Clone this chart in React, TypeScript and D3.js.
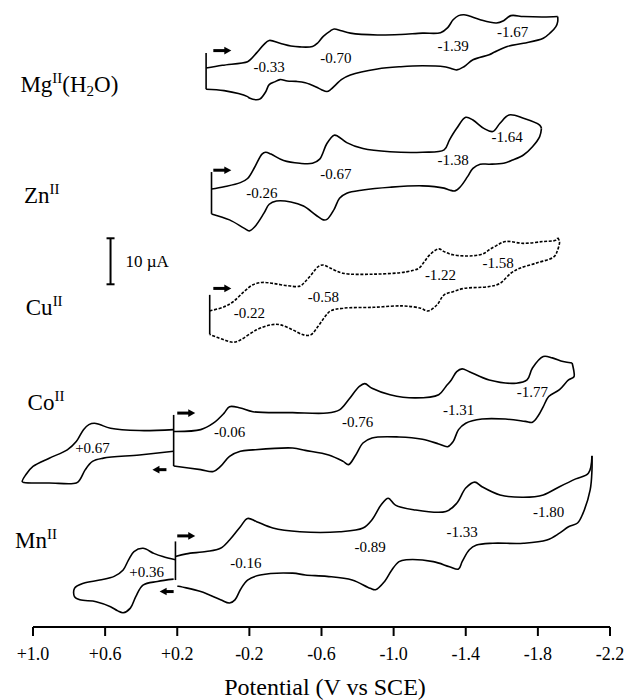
import React from 'react';
import * as d3 from 'd3';

type Pt = [number, number]; // [potential (V vs SCE), current (µA, relative to scan start)]

// potential axis
const potentialTicks = [1.0, 0.6, 0.2, -0.2, -0.6, -1.0, -1.4, -1.8, -2.2];
const potentialTickLabels = ['+1.0', '+0.6', '+0.2', '-0.2', '-0.6', '-1.0', '-1.4', '-1.8', '-2.2'];

// complexes, top to bottom
const complexes = ['Mg', 'Zn', 'Cu', 'Co', 'Mn'];

// Mg(II)(H2O)
const mgForward: Pt[] = [
  [0.04, 0], [-0.05, 0.6], [-0.19, 1.4], [-0.21, 2.0], [-0.24, 3.3], [-0.28, 5.1], [-0.31, 6.0],
  [-0.37, 5.4], [-0.43, 4.8], [-0.48, 4.6], [-0.55, 4.7], [-0.58, 5.5], [-0.61, 6.9], [-0.65, 8.1],
  [-0.67, 8.5], [-0.71, 8.1], [-0.76, 7.6], [-0.91, 7.2], [-1.04, 7.3], [-1.16, 7.6], [-1.26, 7.7],
  [-1.30, 8.8], [-1.33, 10.5], [-1.36, 11.4], [-1.39, 11.6], [-1.42, 11.3], [-1.48, 10.5], [-1.57, 9.8],
  [-1.61, 10.3], [-1.65, 11.4], [-1.72, 11.2], [-1.83, 11.1], [-1.91, 11.2],
];
const mgReverse: Pt[] = [
  [-1.91, 11.2], [-1.91, 10.1], [-1.90, 9.0], [-1.87, 7.7], [-1.83, 6.5], [-1.72, 5.4], [-1.63, 4.7],
  [-1.56, 3.5], [-1.53, 2.9], [-1.44, 1.8], [-1.39, 0.3], [-1.35, -0.4], [-1.31, 0.0], [-1.28, 0.3],
  [-1.16, 0.5], [-1.04, 0.3], [-0.91, -0.2], [-0.76, -1.5], [-0.71, -2.5], [-0.68, -3.6], [-0.65, -4.7],
  [-0.63, -5.1], [-0.60, -4.7], [-0.57, -4.1], [-0.51, -3.2], [-0.46, -2.9], [-0.41, -2.8], [-0.37, -2.5],
  [-0.34, -3.0], [-0.31, -3.6], [-0.29, -5.2], [-0.26, -6.7], [-0.24, -6.9], [-0.20, -6.5], [-0.19, -6.2],
  [-0.06, -4.9], [0.04, -4.6],
];
const mgHalfWave = ['-0.33', '-0.70', '-1.39', '-1.67'];
const mgHalfWavePos: Pt[] = [[-0.31, 0.3], [-0.68, 2.3], [-1.33, 4.8], [-1.66, 7.8]];

// Zn(II)
const znForward: Pt[] = [
  [0.01, 0], [-0.06, 0.5], [-0.15, 1.4], [-0.19, 2.3], [-0.23, 4.8], [-0.27, 7.6], [-0.29, 8.0],
  [-0.32, 7.6], [-0.39, 6.2], [-0.48, 5.6], [-0.55, 5.6], [-0.59, 6.5], [-0.63, 9.9], [-0.67, 11.7],
  [-0.69, 11.5], [-0.74, 10.1], [-0.83, 8.8], [-0.98, 8.1], [-1.16, 8.0], [-1.28, 8.5], [-1.31, 10.7],
  [-1.35, 13.2], [-1.40, 15.6], [-1.44, 15.0], [-1.50, 13.2], [-1.55, 12.5], [-1.59, 14.3], [-1.64, 16.1],
  [-1.72, 15.4], [-1.81, 13.9], [-1.82, 13.2],
];
const znReverse: Pt[] = [
  [-1.82, 13.2], [-1.81, 11.4], [-1.77, 9.2], [-1.72, 7.4], [-1.66, 6.3], [-1.61, 5.6], [-1.53, 5.4],
  [-1.48, 5.4], [-1.44, 4.5], [-1.41, 2.7], [-1.37, 0.5], [-1.34, -0.4], [-1.31, -0.2], [-1.28, 0.2],
  [-1.16, 0.7], [-0.98, 0.4], [-0.83, -0.2], [-0.74, -0.9], [-0.70, -2.0], [-0.67, -4.4], [-0.63, -6.6],
  [-0.61, -6.7], [-0.57, -5.7], [-0.50, -3.7], [-0.43, -2.8], [-0.35, -2.6], [-0.31, -3.3], [-0.28, -5.3],
  [-0.23, -8.2], [-0.20, -9.1], [-0.17, -8.5], [-0.09, -6.7], [0.01, -5.4],
];
const znHalfWave = ['-0.26', '-0.67', '-1.38', '-1.64'];
const znHalfWavePos: Pt[] = [[-0.27, -0.9], [-0.68, 3.4], [-1.33, 6.3], [-1.63, 11.4]];

// Cu(II)
const cuForward: Pt[] = [
  [0.02, 0], [-0.06, 0.9], [-0.11, 2.0], [-0.17, 4.2], [-0.22, 5.7], [-0.27, 6.2], [-0.33, 6.0],
  [-0.41, 5.5], [-0.48, 5.4], [-0.51, 6.4], [-0.55, 8.2], [-0.58, 9.6], [-0.61, 10.0], [-0.65, 9.3],
  [-0.72, 8.2], [-0.89, 8.0], [-1.07, 8.5], [-1.14, 9.3], [-1.17, 10.7], [-1.20, 12.2], [-1.25, 13.5],
  [-1.28, 12.9], [-1.33, 12.2], [-1.44, 12.0], [-1.50, 12.5], [-1.53, 13.3], [-1.57, 14.2], [-1.62, 15.1],
  [-1.72, 14.7], [-1.83, 15.1], [-1.90, 15.4], [-1.91, 15.9],
];
const cuReverse: Pt[] = [
  [-1.91, 15.9], [-1.92, 15.1], [-1.91, 13.3], [-1.89, 11.8], [-1.79, 10.4], [-1.70, 9.3], [-1.65, 8.2],
  [-1.59, 6.0], [-1.53, 5.3], [-1.39, 4.9], [-1.33, 4.2], [-1.28, 3.5], [-1.24, 1.3], [-1.19, 0],
  [-1.15, 0.6], [-1.05, 1.1], [-0.89, 0.8], [-0.72, 0.6], [-0.65, 0], [-0.62, -1.2], [-0.58, -3.4],
  [-0.54, -5.2], [-0.50, -5.2], [-0.44, -4.1], [-0.37, -3.0], [-0.32, -3.0], [-0.24, -4.1], [-0.15, -6.3],
  [-0.11, -6.8], [-0.06, -6.3], [0.02, -5.1],
];
const cuHalfWave = ['-0.22', '-0.58', '-1.22', '-1.58'];
const cuHalfWavePos: Pt[] = [[-0.20, -0.3], [-0.61, 3.1], [-1.26, 7.8], [-1.58, 10.4]];

// Co(II)
const coForward: Pt[] = [
  [0.22, 0], [0.07, 0.4], [0.00, 1.8], [-0.06, 4.0], [-0.09, 5.4], [-0.15, 5.1], [-0.22, 4.3],
  [-0.44, 4.1], [-0.63, 4.0], [-0.70, 4.7], [-0.75, 6.9], [-0.81, 9.8], [-0.84, 10.4], [-0.88, 9.4],
  [-0.98, 8.0], [-1.12, 7.3], [-1.25, 8.0], [-1.29, 9.8], [-1.32, 11.2], [-1.35, 13.0], [-1.38, 13.6],
  [-1.42, 13.0], [-1.53, 11.2], [-1.68, 10.5], [-1.74, 11.2], [-1.77, 13.8], [-1.83, 16.3], [-1.88, 16.0],
  [-1.94, 15.2], [-1.99, 14.9],
];
const coReverse: Pt[] = [
  [-1.99, 14.9], [-2.00, 13.0], [-2.00, 11.9], [-1.97, 11.2], [-1.92, 9.1], [-1.86, 7.6], [-1.83, 5.4],
  [-1.80, 3.3], [-1.77, 2.0], [-1.73, 2.2], [-1.62, 2.7], [-1.49, 2.7], [-1.40, 1.8], [-1.36, 0.4],
  [-1.33, -2.2], [-1.30, -3.3], [-1.25, -2.7], [-1.16, -1.7], [-1.03, -1.2], [-0.88, -1.4], [-0.83, -2.5],
  [-0.79, -5.1], [-0.75, -7.2], [-0.72, -6.5], [-0.64, -5.1], [-0.51, -4.1], [-0.44, -3.6], [-0.22, -4.0],
  [-0.15, -4.3], [-0.09, -5.4], [-0.04, -7.6], [0.00, -8.7], [0.07, -8.3], [0.22, -7.5],
];
const coAnodic: Pt[] = [
  [0.22, -4.3], [0.41, -5.1], [0.61, -5.8], [0.67, -6.5], [0.71, -8.3], [0.74, -10.5], [0.76, -11.2],
  [0.91, -11.2], [1.05, -11.1], [1.06, -10.9], [1.04, -9.4], [1.00, -7.6], [0.91, -5.8], [0.81, -4.0],
  [0.76, -2.2], [0.72, 0.4], [0.69, 1.5], [0.66, 1.8], [0.63, 1.5], [0.57, 0.7], [0.41, 0.2], [0.22, 0.4],
];
const coHalfWave = ['+0.67', '-0.06', '-0.76', '-1.31', '-1.77'];
const coHalfWavePos: Pt[] = [[0.67, -3.6], [-0.09, 0], [-0.80, 2.2], [-1.36, 4.8], [-1.77, 8.6]];

// Mn(II)
const mnForward: Pt[] = [
  [0.21, 0], [0.15, 0.6], [0.04, 1.1], [-0.04, 1.8], [-0.09, 3.6], [-0.15, 6.5], [-0.19, 8.3],
  [-0.24, 7.6], [-0.33, 6.2], [-0.48, 5.4], [-0.70, 5.4], [-0.83, 6.2], [-0.88, 8.0], [-0.93, 11.2],
  [-0.97, 12.7], [-1.01, 11.2], [-1.11, 10.2], [-1.29, 9.8], [-1.35, 11.6], [-1.40, 14.9], [-1.45, 16.2],
  [-1.49, 15.2], [-1.59, 13.4], [-1.72, 12.9], [-1.83, 13.4], [-1.92, 15.2], [-2.01, 16.9], [-2.08, 18.1],
  [-2.10, 21.9],
];
const mnReverse: Pt[] = [
  [-2.10, 21.9], [-2.10, 18.8], [-2.09, 14.5], [-2.05, 9.4], [-2.02, 7.3], [-1.97, 6.5], [-1.92, 5.1],
  [-1.85, 3.6], [-1.72, 2.9], [-1.55, 2.9], [-1.46, 2.5], [-1.42, 1.5], [-1.38, -1.1], [-1.36, -2.7],
  [-1.31, -2.2], [-1.22, -1.1], [-1.07, -0.7], [-1.03, -1.1], [-0.99, -2.9], [-0.95, -5.4], [-0.90, -7.2],
  [-0.87, -6.9], [-0.77, -5.1], [-0.63, -4.3], [-0.51, -4.0], [-0.44, -3.6], [-0.26, -4.0], [-0.19, -5.1],
  [-0.15, -7.2], [-0.12, -9.4], [-0.09, -10.1], [-0.04, -9.4], [0.07, -7.6], [0.20, -6.4],
];
const mnAnodic: Pt[] = [
  [0.21, -0.7], [0.28, 0], [0.33, 0.7], [0.39, 1.8], [0.44, 1.1], [0.47, -0.7], [0.50, -2.9],
  [0.55, -4.3], [0.63, -5.1], [0.72, -5.8], [0.77, -6.9], [0.77, -8.7], [0.74, -9.4], [0.65, -9.8],
  [0.57, -10.9], [0.53, -11.8], [0.50, -12.2], [0.46, -11.2], [0.43, -8.7], [0.39, -6.2], [0.31, -5.4],
  [0.22, -4.9],
];
const mnHalfWave = ['+0.36', '-0.16', '-0.89', '-1.33', '-1.80'];
const mnHalfWavePos: Pt[] = [[0.37, -3.3], [-0.18, -1.4], [-0.87, 2.2], [-1.38, 5.4], [-1.86, 9.7]];

// start potential of each scan, with the marker's extent (µA)
const startPotentials = [0.04, 0.01, 0.02, 0.22, 0.21];
const startMarkerTop = [3.3, 3.7, 3.5, 3.6, 3.3];
const startMarkerBottom = [-4.6, -5.4, -5.1, -7.5, -5.1];

// layout: vertical stacking of each voltammogram (µA) and where its name sits
const stackOffsets = [125.2, 98.9, 72.4, 46.2, 19.0];
const namePos: Pt[] = [[1.07, -5.2], [1.05, -3.0], [1.04, -0.9], [1.03, 4.7], [1.10, 1.9]];
// scan direction arrows: [potential, current, direction]
const arrows: [number, number, number][][] = [
  [[0.0, 3.8, 1]],
  [[0.0, 4.1, 1]],
  [[0.0, 4.9, 1]],
  [[0.20, 4.0, 1], [0.26, -8.3, -1]],
  [[0.20, 4.5, 1], [0.22, -7.6, -1]],
];

const SERIF = '"Liberation Serif", "Times New Roman", Times, serif';

function NameLabel({ name, x, y }: { name: string; x: number; y: number }) {
  const big = 23;
  const small = 15;
  if (name === 'Mg') {
    return (
      <text x={x} y={y} fontSize={big} fontFamily={SERIF}>
        Mg<tspan fontSize={small} dy={-9}>II</tspan>
        <tspan fontSize={big} dy={9}>(H</tspan>
        <tspan fontSize={small} dy={4}>2</tspan>
        <tspan fontSize={big} dy={-4}>O)</tspan>
      </text>
    );
  }
  return (
    <text x={x} y={y} fontSize={big} fontFamily={SERIF}>
      {name}<tspan fontSize={small} dy={-9}>II</tspan>
    </text>
  );
}

export default function App() {
  const width = 626;
  const height = 700;

  const x = d3.scaleLinear().domain([1.0, -2.2]).range([33, 610]);
  const y = d3.scaleLinear().domain([0, 140]).range([644, 0]);
  const axisY = 627;

  const traces = [
    { segments: [mgForward, mgReverse], labels: mgHalfWave, labelPos: mgHalfWavePos, dashed: false },
    { segments: [znForward, znReverse], labels: znHalfWave, labelPos: znHalfWavePos, dashed: false },
    { segments: [cuForward, cuReverse], labels: cuHalfWave, labelPos: cuHalfWavePos, dashed: true },
    { segments: [coForward, coReverse, coAnodic], labels: coHalfWave, labelPos: coHalfWavePos, dashed: false },
    { segments: [mnForward, mnReverse, mnAnodic], labels: mnHalfWave, labelPos: mnHalfWavePos, dashed: false },
  ];

  const pathFor = (pts: Pt[], off: number) =>
    d3.line<Pt>()
      .x(d => x(d[0]))
      .y(d => y(d[1] + off))
      .curve(d3.curveCatmullRom.alpha(0.5))(pts) || '';

  // 10 µA scale bar, drawn beside the Cu trace
  const barE = 0.57;
  const barTop = y(stackOffsets[2] + 15.8);
  const barBottom = y(stackOffsets[2] + 5.8);

  return (
    <svg width={width} height={height} style={{ position: 'absolute', left: 0, top: 0, background: '#fff' }}>
      {traces.map((t, k) => {
        const off = stackOffsets[k];
        return (
          <g key={complexes[k]}>
            {t.segments.map((s, j) => (
              <path key={j} d={pathFor(s, off)} fill="none" stroke="#000" strokeWidth={1.6}
                strokeDasharray={t.dashed ? '3 1.6' : undefined} strokeLinejoin="round" />
            ))}
            <line x1={x(startPotentials[k])} x2={x(startPotentials[k])}
              y1={y(off + startMarkerTop[k])} y2={y(off + startMarkerBottom[k])}
              stroke="#000" strokeWidth={1.6} />
            {t.labels.map((lab, j) => (
              <text key={lab} x={x(t.labelPos[j][0])} y={y(off + t.labelPos[j][1])} dy="0.35em"
                textAnchor="middle" fontSize={15} fontFamily={SERIF}>{lab}</text>
            ))}
            {arrows[k].map(([e, i, dir], j) => {
              const x0 = x(e);
              const y0 = y(off + i);
              const len = dir > 0 ? 18 : 14;
              const tip = x0 + dir * len;
              const base = tip - dir * 7;
              return (
                <g key={j}>
                  <line x1={x0} x2={base + dir} y1={y0} y2={y0} stroke="#000" strokeWidth={3} />
                  <polygon points={`${tip},${y0} ${base},${y0 - 3.8} ${base},${y0 + 3.8}`} fill="#000" />
                </g>
              );
            })}
            <NameLabel name={complexes[k]} x={x(namePos[k][0])} y={y(off + namePos[k][1])} />
          </g>
        );
      })}

      {/* scale bar */}
      <g stroke="#000" strokeWidth={2}>
        <line x1={x(barE)} x2={x(barE)} y1={barTop} y2={barBottom} />
        <line x1={x(barE) - 4} x2={x(barE) + 4} y1={barTop} y2={barTop} />
        <line x1={x(barE) - 4} x2={x(barE) + 4} y1={barBottom} y2={barBottom} />
      </g>
      <text x={x(barE) + 15} y={(barTop + barBottom) / 2} dy="0.35em" fontSize={17} fontFamily={SERIF}>10 µA</text>

      {/* potential axis */}
      <line x1={x(1.0)} x2={x(-2.2)} y1={axisY} y2={axisY} stroke="#000" strokeWidth={2} />
      {potentialTicks.map((v, i) => (
        <g key={v}>
          <line x1={x(v)} x2={x(v)} y1={axisY} y2={axisY + 9} stroke="#000" strokeWidth={2} />
          <text x={x(v)} y={axisY + 33} textAnchor="middle" fontSize={18} fontFamily={SERIF}>
            {potentialTickLabels[i]}
          </text>
        </g>
      ))}
      <text x={325} y={695} textAnchor="middle" fontSize={24} fontFamily={SERIF}>Potential (V vs SCE)</text>
    </svg>
  );
}
